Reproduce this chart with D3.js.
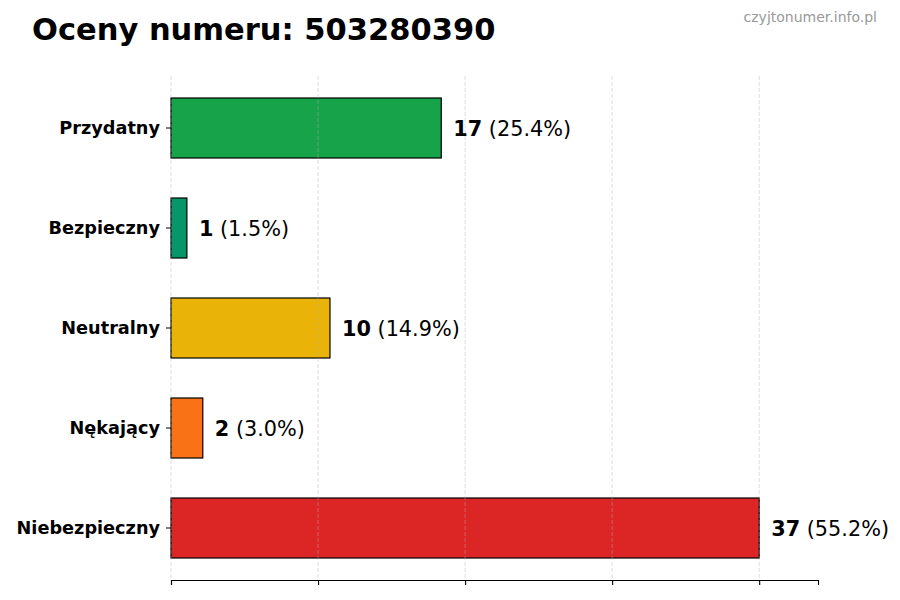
<!DOCTYPE html>
<html>
<head>
<meta charset="utf-8">
<script src="https://cdn.jsdelivr.net/npm/d3@7"></script>
<style>
  body { margin: 0; background: #fff; }
  svg { font-family: "DejaVu Sans", sans-serif; }
</style>
</head>
<body>
<svg id="chart"></svg>
<script>
const categories = ['Przydatny', 'Bezpieczny', 'Neutralny', 'Nękający', 'Niebezpieczny'];
const counts = [17, 1, 10, 2, 37];
const percents = ['25.4%', '1.5%', '14.9%', '3.0%', '55.2%'];
const colors = ['#16a34a', '#059669', '#eab308', '#f97316', '#dc2626'];
const title = 'Oceny numeru: 503280390';
const watermark = 'czyjtonumer.info.pl';

const width = 900, height = 600;
const margin = { top: 76, left: 171, bottom: 20, right: 82 };
const iwidth = width - margin.left - margin.right;
const iheight = height - margin.top - margin.bottom;

const svg = d3.select('#chart').attr('width', width).attr('height', height);

const maxVal = d3.max(counts);
const x = d3.scaleLinear().domain([0, maxVal * 1.1]).range([0, iwidth]);
const y = d3.scaleBand()
  .domain(categories)
  .range([2, iheight - 2])
  .paddingInner(0.4)
  .paddingOuter(0.2);

const g = svg.append('g').attr('transform', `translate(${margin.left},${margin.top})`);

const tickVals = d3.range(5).map(i => maxVal * i / 4);

// bars
g.selectAll('rect.bar')
  .data(categories)
  .enter()
  .append('rect')
  .attr('class', 'bar')
  .attr('x', x(0))
  .attr('y', d => y(d))
  .attr('width', (d, i) => x(counts[i]) - x(0))
  .attr('height', y.bandwidth())
  .attr('fill', (d, i) => colors[i])
  .attr('stroke', '#000')
  .attr('stroke-width', 1.2);

// grid
g.selectAll('line.grid')
  .data(tickVals)
  .enter()
  .append('line')
  .attr('class', 'grid')
  .attr('x1', d => x(d)).attr('x2', d => x(d))
  .attr('y1', 0).attr('y2', iheight)
  .attr('stroke', '#b0b0b0')
  .attr('stroke-opacity', 0.55)
  .attr('stroke-dasharray', '4,2')
  .attr('stroke-width', 0.8);

// x axis, ticks only
const xAxis = g.append('g')
  .attr('transform', `translate(0,${iheight})`)
  .call(d3.axisBottom(x).tickValues(tickVals).tickSize(5).tickFormat(''));
xAxis.select('.domain').attr('stroke', '#000').attr('stroke-width', 1.1);
xAxis.selectAll('.tick line').attr('stroke', '#000').attr('stroke-width', 1.1);

// y axis, ticks and labels, no spine
const yAxis = g.append('g')
  .call(d3.axisLeft(y).tickSize(5).tickPadding(6));
yAxis.select('.domain').remove();
yAxis.selectAll('.tick line').attr('stroke', '#000').attr('stroke-width', 1);
yAxis.selectAll('.tick text')
  .attr('fill', '#000')
  .style('font-family', '"DejaVu Sans", sans-serif')
  .style('font-size', '17.7px')
  .style('font-weight', 'bold');

// value labels
const labels = g.selectAll('text.val')
  .data(categories)
  .enter()
  .append('text')
  .attr('class', 'val')
  .attr('x', (d, i) => x(counts[i]) + 12)
  .attr('y', d => y(d) + y.bandwidth() / 2 + 1)
  .attr('dy', '0.35em')
  .style('font-size', '20.8px')
  .attr('fill', '#000');
labels.append('tspan').style('font-weight', 'bold').text((d, i) => counts[i]);
labels.append('tspan').text((d, i) => ' (' + percents[i] + ')');

// title
svg.append('text')
  .attr('x', 32)
  .attr('y', 40)
  .style('font-size', '30.5px')
  .style('font-weight', 'bold')
  .attr('fill', '#000')
  .text(title);

svg.append('text')
  .attr('x', 877)
  .attr('y', 22)
  .attr('text-anchor', 'end')
  .style('font-size', '14px')
  .attr('fill', '#999')
  .text(watermark);
</script>
</body>
</html>
